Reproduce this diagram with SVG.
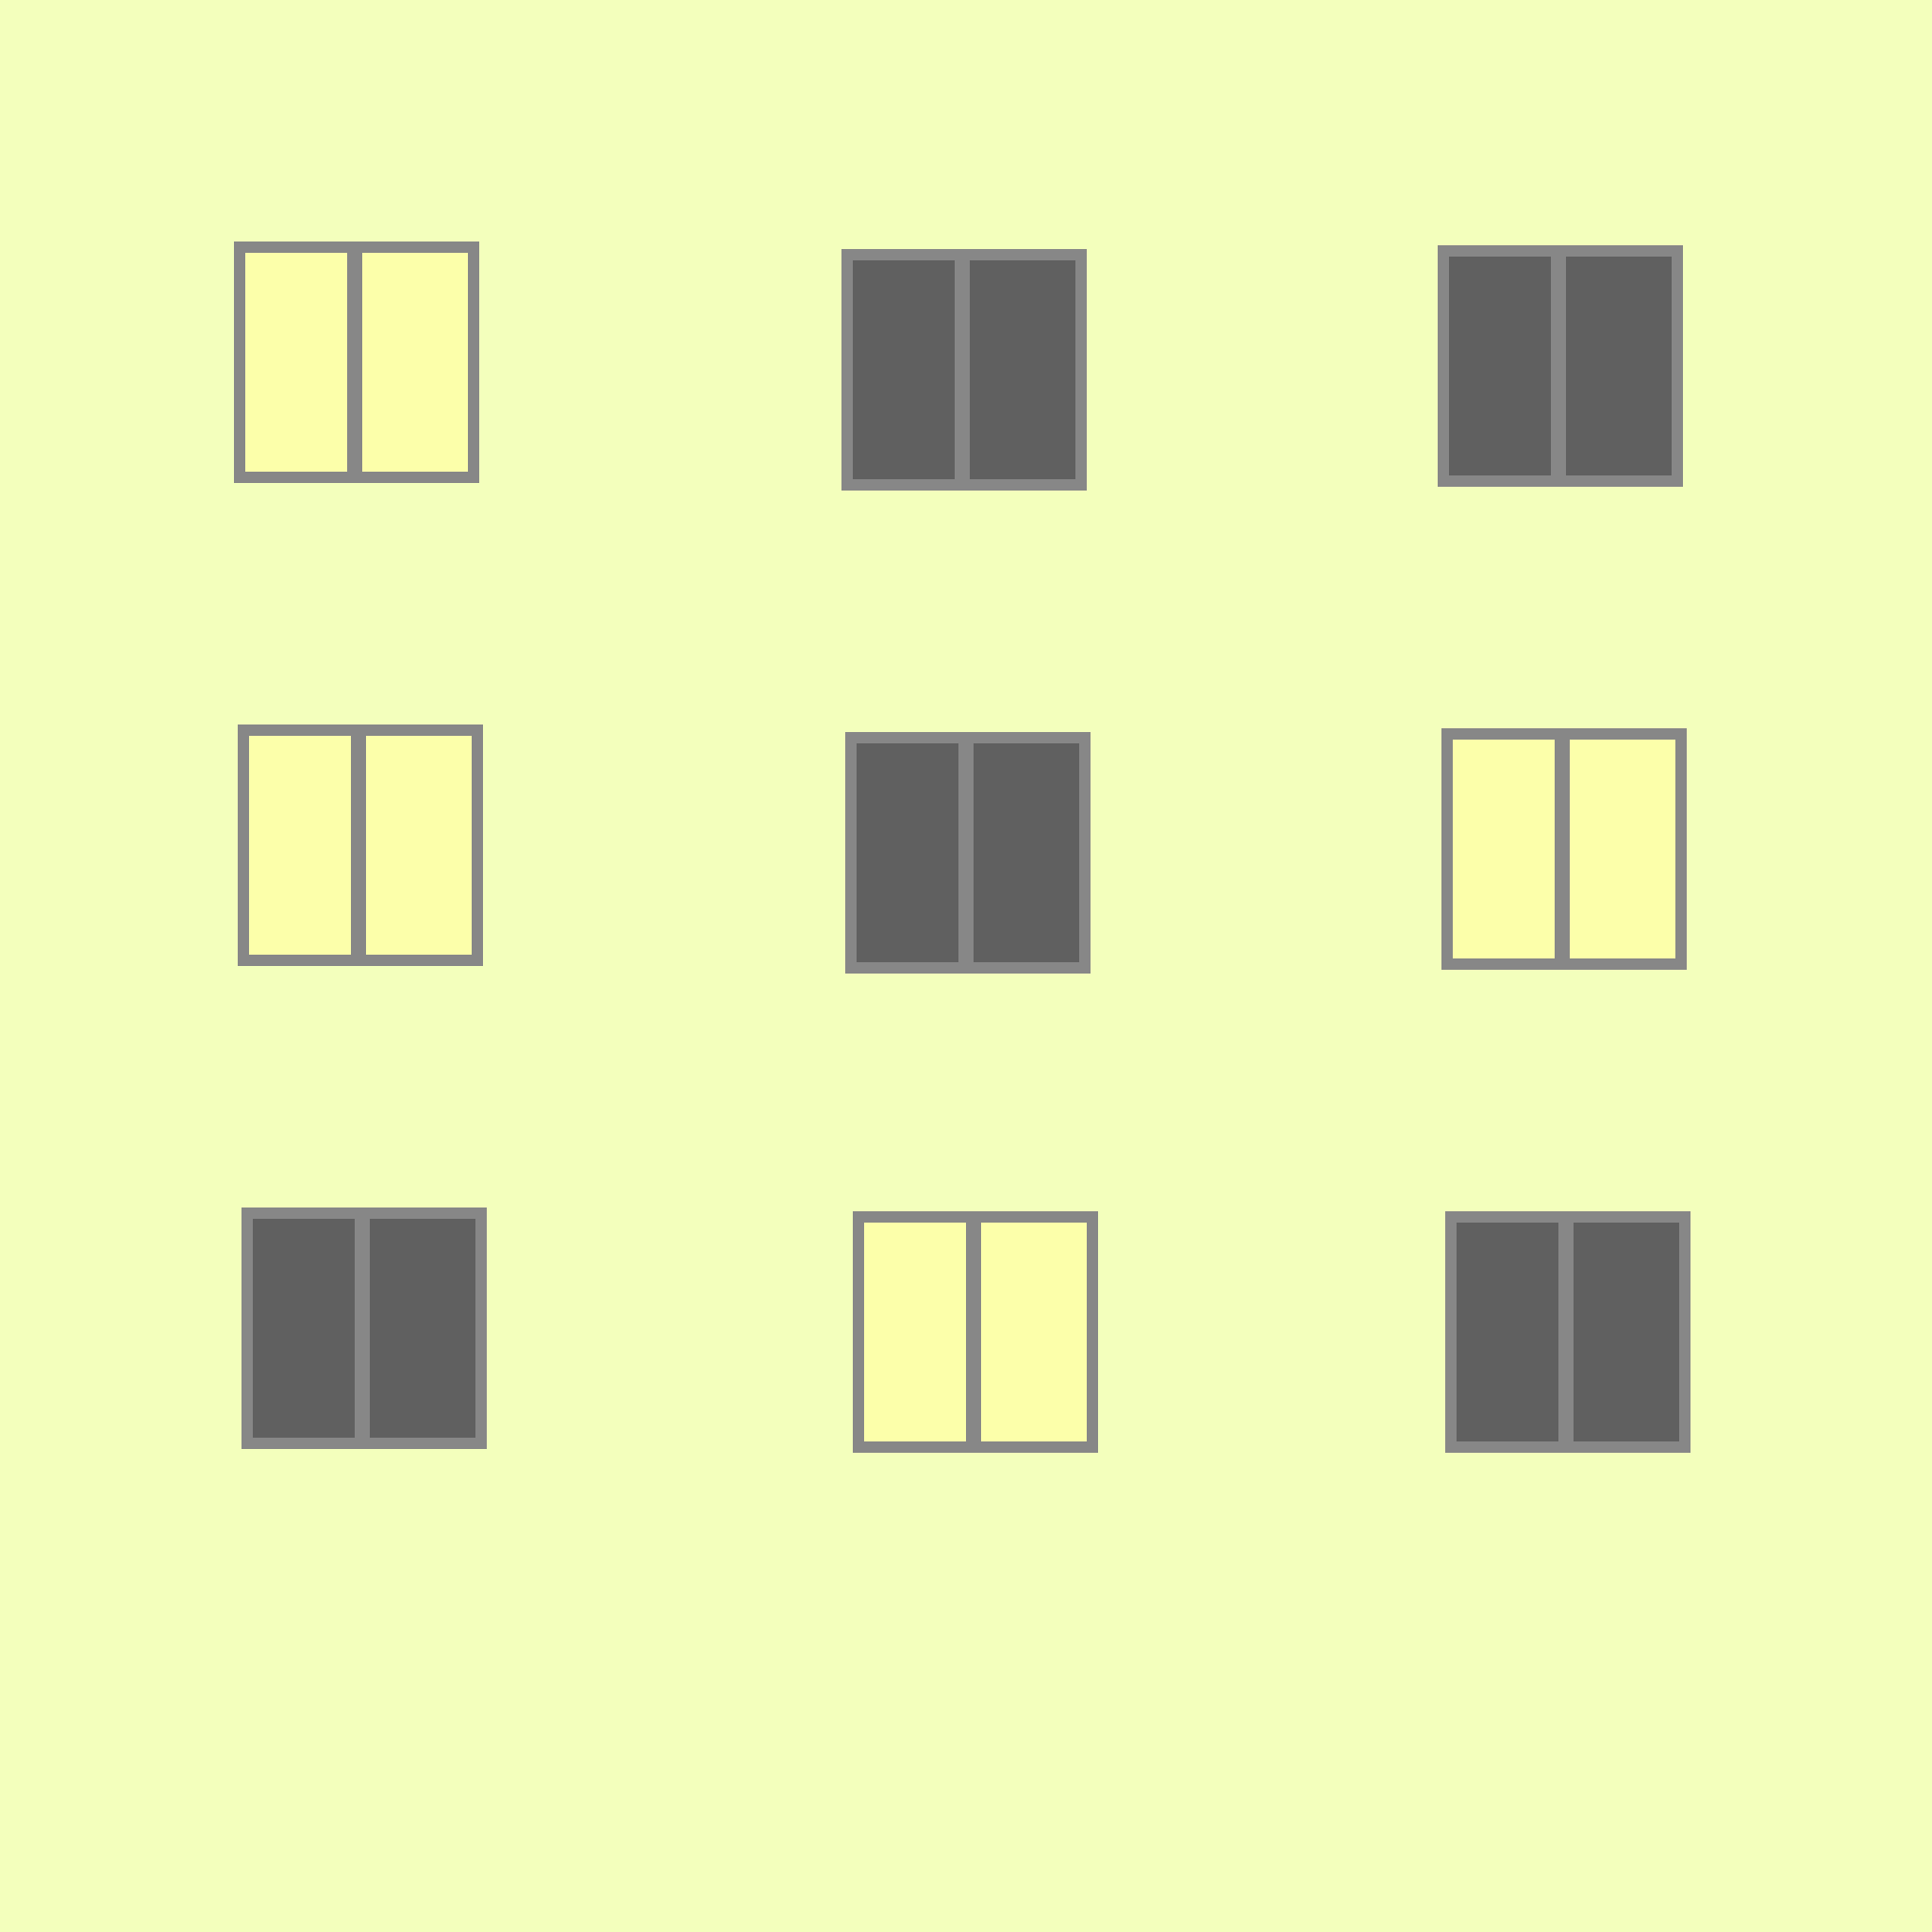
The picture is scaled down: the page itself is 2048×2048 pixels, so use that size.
<svg xmlns="http://www.w3.org/2000/svg" width="2048" height="2048" viewBox="0 0 2048 2048">
<style>
.frame{fill:#878787}
.lit{fill:#fcffaa}
.dark{fill:#606060}
</style>
<defs>
<g id="frame"><rect class="frame" x="0" y="0" width="260" height="256"/></g>
</defs>
<rect x="0" y="0" width="2048" height="2048" fill="#f3ffbc"/>
<g id="window-1" transform="translate(248,256)"><use href="#frame"/><rect class="lit" x="12" y="12" width="108" height="232"/><rect class="lit" x="136" y="12" width="112" height="232"/></g>
<g id="window-2" transform="translate(892,264)"><use href="#frame"/><rect class="dark" x="12" y="12" width="108" height="232"/><rect class="dark" x="136" y="12" width="112" height="232"/></g>
<g id="window-3" transform="translate(1524,260)"><use href="#frame"/><rect class="dark" x="12" y="12" width="108" height="232"/><rect class="dark" x="136" y="12" width="112" height="232"/></g>
<g id="window-4" transform="translate(252,768)"><use href="#frame"/><rect class="lit" x="12" y="12" width="108" height="232"/><rect class="lit" x="136" y="12" width="112" height="232"/></g>
<g id="window-5" transform="translate(896,776)"><use href="#frame"/><rect class="dark" x="12" y="12" width="108" height="232"/><rect class="dark" x="136" y="12" width="112" height="232"/></g>
<g id="window-6" transform="translate(1528,772)"><use href="#frame"/><rect class="lit" x="12" y="12" width="108" height="232"/><rect class="lit" x="136" y="12" width="112" height="232"/></g>
<g id="window-7" transform="translate(256,1280)"><use href="#frame"/><rect class="dark" x="12" y="12" width="108" height="232"/><rect class="dark" x="136" y="12" width="112" height="232"/></g>
<g id="window-8" transform="translate(904,1284)"><use href="#frame"/><rect class="lit" x="12" y="12" width="108" height="232"/><rect class="lit" x="136" y="12" width="112" height="232"/></g>
<g id="window-9" transform="translate(1532,1284)"><use href="#frame"/><rect class="dark" x="12" y="12" width="108" height="232"/><rect class="dark" x="136" y="12" width="112" height="232"/></g>
<g id="connectors"/>
</svg>
